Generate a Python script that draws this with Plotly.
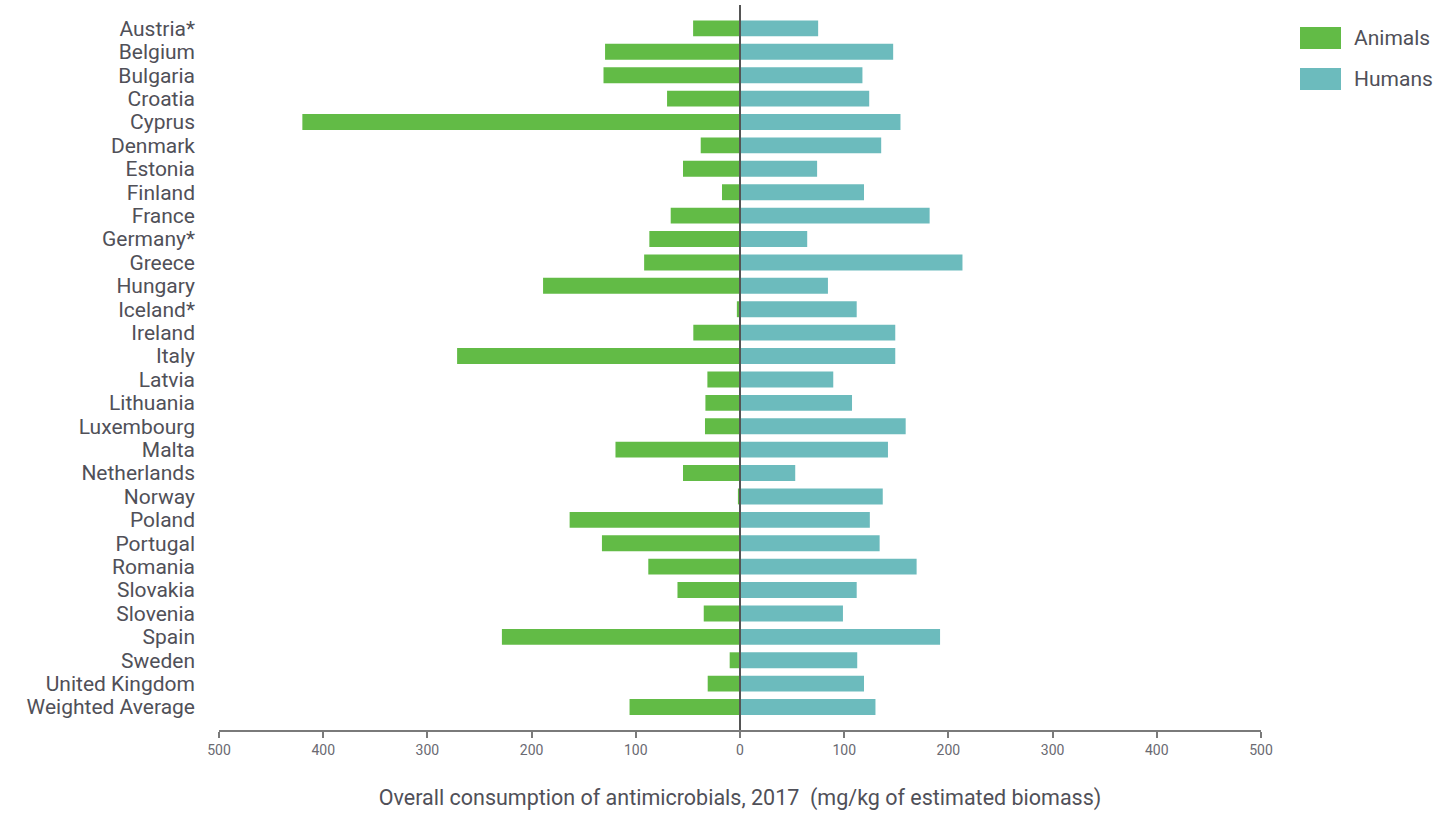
import plotly.graph_objects as go

countries = ["Austria*", "Belgium", "Bulgaria", "Croatia", "Cyprus", "Denmark", "Estonia",
             "Finland", "France", "Germany*", "Greece", "Hungary", "Iceland*", "Ireland",
             "Italy", "Latvia", "Lithuania", "Luxembourg", "Malta", "Netherlands", "Norway",
             "Poland", "Portugal", "Romania", "Slovakia", "Slovenia", "Spain", "Sweden",
             "United Kingdom", "Weighted Average"]

animals = [45, 129.5, 131, 70, 420, 37.7, 54.7, 17.3, 66.5, 87, 92, 189, 3, 44.8,
           271.5, 31.3, 33.2, 33.6, 119.5, 54.7, 2, 163.5, 132.5, 88, 60, 34.8, 228.5,
           9.9, 31, 106]
humans = [75, 147, 117.5, 124, 154, 135.5, 74, 119, 182, 64.5, 213.5, 84.4, 112, 149,
          149, 89.5, 107.5, 159, 142, 53, 137, 124.6, 134, 169.5, 112, 98.8, 192,
          112.5, 119, 130]

tick_vals = [-500, -400, -300, -200, -100, 0, 100, 200, 300, 400, 500]
tick_text = ["500", "400", "300", "200", "100", "0", "100", "200", "300", "400", "500"]

green = "#62bb46"
teal = "#6cbbbd"
text_col = "#505058"
font_family = "Roboto, 'Open Sans', sans-serif"

fig = go.Figure()
fig.add_trace(go.Bar(
    y=countries, x=[-a for a in animals], orientation="h", name="Animals",
    marker=dict(color=green, line=dict(width=0)), width=0.68,
    customdata=animals, hovertemplate="%{y}: %{customdata}<extra>Animals</extra>"))
fig.add_trace(go.Bar(
    y=countries, x=humans, orientation="h", name="Humans",
    marker=dict(color=teal, line=dict(width=0)), width=0.68,
    hovertemplate="%{y}: %{x}<extra>Humans</extra>"))

n = len(countries)
L, R, T, B = 219, 179, 5, 85
PW, PH = 1440 - L - R, 815 - T - B

fig.update_layout(
    width=1440, height=815,
    barmode="relative",
    showlegend=False,
    plot_bgcolor="white", paper_bgcolor="white",
    margin=dict(l=L, r=R, t=T, b=B),
    font=dict(family=font_family, color=text_col),
    xaxis=dict(
        range=[-500, 500], tickvals=tick_vals, ticktext=tick_text,
        showgrid=False, zeroline=False,
        showline=True, linecolor="#7a7a7a", linewidth=2,
        ticks="outside", ticklen=6, tickwidth=2, tickcolor="#7a7a7a",
        tickfont=dict(size=14, color="#6a6a72", family=font_family),
        title=dict(text="Overall consumption of antimicrobials, 2017  (mg/kg of estimated biomass)",
                   font=dict(size=21.5, color=text_col, family=font_family), standoff=33),
        fixedrange=True,
    ),
    yaxis=dict(
        type="category", categoryorder="array", categoryarray=countries,
        tickmode="array", tickvals=countries, ticktext=countries,
        range=[n - 0.02, -1], showgrid=False, zeroline=False, showline=False,
        ticks="", tickfont=dict(size=21, color=text_col, family=font_family),
        ticklabelstandoff=23, fixedrange=True,
    ),
)

# zero line
fig.add_shape(type="line", xref="x", yref="paper", x0=0, x1=0, y0=0, y1=1,
              line=dict(color="#555555", width=2), layer="above")

# legend drawn manually (large swatches as in the reference)
legend_items = [("Animals", green), ("Humans", teal)]
for i, (name, col) in enumerate(legend_items):
    y_top = 27 + i * 41
    fig.add_shape(type="rect", xref="paper", yref="paper",
                  x0=(1300 - L) / PW, x1=(1341 - L) / PW,
                  y0=1 - (y_top + 22 - T) / PH, y1=1 - (y_top - T) / PH,
                  fillcolor=col, line=dict(width=0))
    fig.add_annotation(xref="paper", yref="paper", x=(1352 - L) / PW,
                       y=1 - (y_top + 11 - T) / PH, text=name, showarrow=False,
                       xanchor="left", yanchor="middle",
                       font=dict(size=21, color=text_col, family=font_family))

fig.write_html("out.html", config={"displayModeBar": False},
               post_script="document.body.style.margin='0';")
